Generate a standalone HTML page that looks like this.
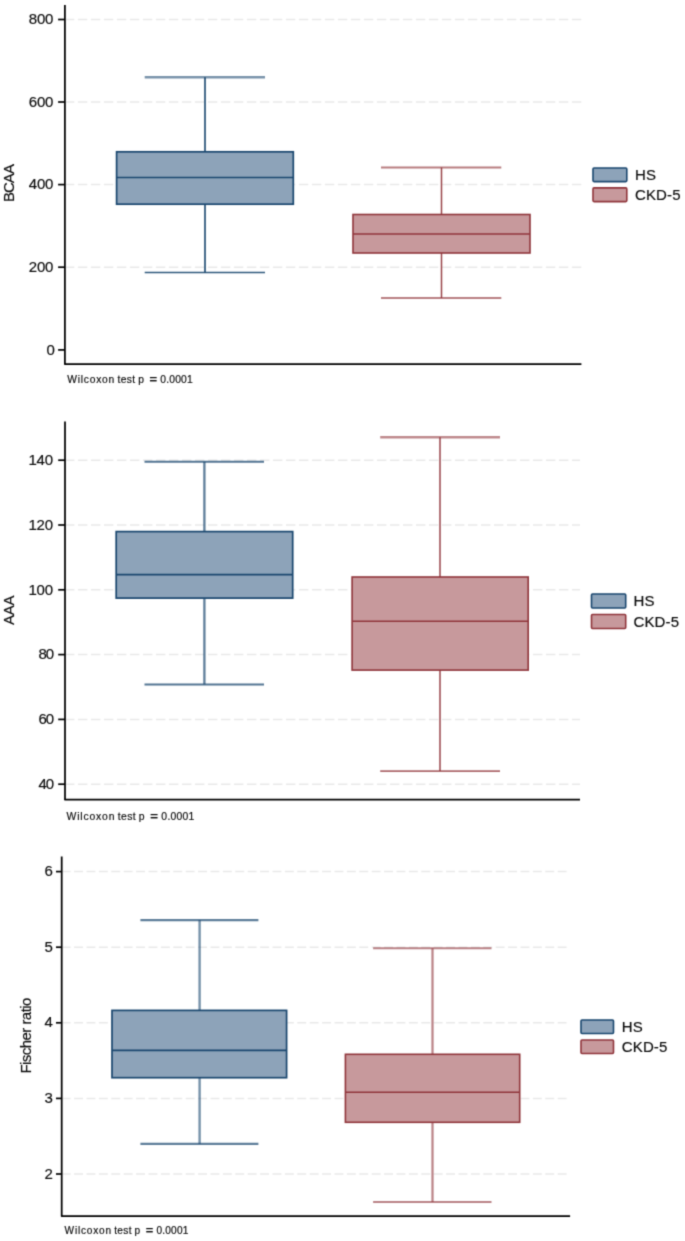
<!DOCTYPE html>
<html><head><meta charset="utf-8"><title>Box plots</title>
<style>
html,body{margin:0;padding:0;background:#fff;}
svg{display:block;}
text{font-family:"Liberation Sans",sans-serif;fill:#0c0c0c;stroke:#0c0c0c;stroke-width:0.18px;}
</style></head><body>
<svg width="685" height="1241" viewBox="0 0 685 1241">
<defs><filter id="soft" x="0" y="0" width="685" height="1241" filterUnits="userSpaceOnUse" color-interpolation-filters="sRGB"><feConvolveMatrix order="3" kernelMatrix="0.02560 0.10880 0.02560 0.10880 0.46240 0.10880 0.02560 0.10880 0.02560" divisor="1" edgeMode="duplicate" preserveAlpha="true"/></filter></defs>
<g filter="url(#soft)">
<rect x="0" y="0" width="685" height="1241" fill="#fff"/>
<g>
<line x1="64.9" y1="19.5" x2="581.4" y2="19.5" stroke="#e9e9e9" stroke-width="1.5" stroke-dasharray="9.4 3.6"/>
<line x1="64.9" y1="102.0" x2="581.4" y2="102.0" stroke="#e9e9e9" stroke-width="1.5" stroke-dasharray="9.4 3.6"/>
<line x1="64.9" y1="184.6" x2="581.4" y2="184.6" stroke="#e9e9e9" stroke-width="1.5" stroke-dasharray="9.4 3.6"/>
<line x1="64.9" y1="267.2" x2="581.4" y2="267.2" stroke="#e9e9e9" stroke-width="1.5" stroke-dasharray="9.4 3.6"/>
<line x1="205" y1="77.3" x2="205" y2="151.8" stroke="#1a476f" stroke-opacity="0.85" stroke-width="1.9"/>
<line x1="205" y1="204.2" x2="205" y2="272.6" stroke="#1a476f" stroke-opacity="0.85" stroke-width="1.9"/>
<line x1="144.7" y1="77.3" x2="265" y2="77.3" stroke="#1a476f" stroke-opacity="0.58" stroke-width="2.5"/>
<line x1="144.7" y1="272.6" x2="265" y2="272.6" stroke="#1a476f" stroke-opacity="0.9" stroke-width="1.5"/>
<rect x="116.6" y="151.8" width="176.7" height="52.4" fill="#8da3b9" stroke="#1a476f" stroke-width="1.7"/>
<line x1="116.6" y1="177.5" x2="293.3" y2="177.5" stroke="#1a476f" stroke-width="1.7"/>
<line x1="441.5" y1="167.5" x2="441.5" y2="214.5" stroke="#90353b" stroke-opacity="0.92" stroke-width="1.5"/>
<line x1="441.5" y1="253" x2="441.5" y2="298" stroke="#90353b" stroke-opacity="0.92" stroke-width="1.5"/>
<line x1="381" y1="167.5" x2="501.3" y2="167.5" stroke="#90353b" stroke-opacity="0.65" stroke-width="2.1"/>
<line x1="381" y1="298" x2="501.3" y2="298" stroke="#90353b" stroke-opacity="0.85" stroke-width="1.6"/>
<rect x="353" y="214.5" width="177" height="38.5" fill="#c7999c" stroke="#90353b" stroke-width="1.6"/>
<line x1="353" y1="234" x2="530" y2="234" stroke="#90353b" stroke-width="1.6"/>
<line x1="64.9" y1="5.1" x2="64.9" y2="364.6" stroke="#000" stroke-width="1.75"/>
<line x1="64.30000000000001" y1="364" x2="581.4" y2="364" stroke="#000" stroke-width="1.75"/>
<line x1="58.1" y1="19.5" x2="64.9" y2="19.5" stroke="#000" stroke-width="1.7"/>
<text x="53.4" y="24.3" font-size="15" text-anchor="end" textLength="24.599999999999998" lengthAdjust="spacing">800</text>
<line x1="58.1" y1="102.0" x2="64.9" y2="102.0" stroke="#000" stroke-width="1.7"/>
<text x="53.4" y="106.8" font-size="15" text-anchor="end" textLength="24.599999999999998" lengthAdjust="spacing">600</text>
<line x1="58.1" y1="184.6" x2="64.9" y2="184.6" stroke="#000" stroke-width="1.7"/>
<text x="53.4" y="189.4" font-size="15" text-anchor="end" textLength="24.599999999999998" lengthAdjust="spacing">400</text>
<line x1="58.1" y1="267.2" x2="64.9" y2="267.2" stroke="#000" stroke-width="1.7"/>
<text x="53.4" y="272.0" font-size="15" text-anchor="end" textLength="24.599999999999998" lengthAdjust="spacing">200</text>
<line x1="58.1" y1="349.9" x2="64.9" y2="349.9" stroke="#000" stroke-width="1.7"/>
<text x="54.8" y="354.7" font-size="15" text-anchor="end" textLength="8.2" lengthAdjust="spacing">0</text>
<text transform="translate(13.8,183.1) rotate(-90)" font-size="15" text-anchor="middle" textLength="38">BCAA</text>
<rect x="593" y="168" width="33.799999999999955" height="13.599999999999994" fill="#8da3b9" stroke="#1a476f" stroke-width="1.6" rx="1"/>
<rect x="593" y="187.9" width="33.799999999999955" height="13.699999999999989" fill="#c7999c" stroke="#90353b" stroke-width="1.6" rx="1"/>
<text x="635.0" y="179.8" font-size="15" textLength="21">HS</text>
<text x="635.0" y="199.75" font-size="15" textLength="45.5">CKD-5</text>
<text x="67.3" y="382.6" font-size="10.3" textLength="47.0" lengthAdjust="spacing">Wilcoxon</text>
<text x="117.5" y="382.6" font-size="10.3" textLength="17.6" lengthAdjust="spacing">test</text>
<text x="138.2" y="382.6" font-size="10.3">p</text>
<text x="149.4" y="382.6" font-size="10.3" font-weight="bold" textLength="7.6" lengthAdjust="spacingAndGlyphs">=</text>
<text x="160.3" y="382.6" font-size="10.3" textLength="32.4" lengthAdjust="spacing">0.0001</text>
</g>
<g>
<line x1="65.0" y1="460.2" x2="580" y2="460.2" stroke="#e9e9e9" stroke-width="1.5" stroke-dasharray="9.4 3.6"/>
<line x1="65.0" y1="525.0" x2="580" y2="525.0" stroke="#e9e9e9" stroke-width="1.5" stroke-dasharray="9.4 3.6"/>
<line x1="65.0" y1="589.8" x2="580" y2="589.8" stroke="#e9e9e9" stroke-width="1.5" stroke-dasharray="9.4 3.6"/>
<line x1="65.0" y1="654.6" x2="580" y2="654.6" stroke="#e9e9e9" stroke-width="1.5" stroke-dasharray="9.4 3.6"/>
<line x1="65.0" y1="719.4" x2="580" y2="719.4" stroke="#e9e9e9" stroke-width="1.5" stroke-dasharray="9.4 3.6"/>
<line x1="65.0" y1="784.2" x2="580" y2="784.2" stroke="#e9e9e9" stroke-width="1.5" stroke-dasharray="9.4 3.6"/>
<line x1="204.4" y1="461.8" x2="204.4" y2="531.6" stroke="#1a476f" stroke-opacity="0.7" stroke-width="2.3"/>
<line x1="204.4" y1="598.1" x2="204.4" y2="684.4" stroke="#1a476f" stroke-opacity="0.7" stroke-width="2.3"/>
<line x1="144.5" y1="461.8" x2="264" y2="461.8" stroke="#1a476f" stroke-opacity="0.75" stroke-width="2.0"/>
<line x1="144.5" y1="684.4" x2="264" y2="684.4" stroke="#1a476f" stroke-opacity="0.75" stroke-width="2.0"/>
<rect x="116.2" y="531.6" width="176.5" height="66.5" fill="#8da3b9" stroke="#1a476f" stroke-width="1.7"/>
<line x1="116.2" y1="574.6" x2="292.7" y2="574.6" stroke="#1a476f" stroke-width="1.7"/>
<line x1="440" y1="437.3" x2="440" y2="577" stroke="#90353b" stroke-opacity="0.92" stroke-width="1.5"/>
<line x1="440" y1="670.1" x2="440" y2="771.1" stroke="#90353b" stroke-opacity="0.92" stroke-width="1.5"/>
<line x1="380.2" y1="437.3" x2="500" y2="437.3" stroke="#90353b" stroke-opacity="0.58" stroke-width="2.4"/>
<line x1="380.2" y1="771.1" x2="500" y2="771.1" stroke="#90353b" stroke-opacity="0.75" stroke-width="1.9"/>
<rect x="352.1" y="577" width="176.1" height="93.1" fill="#c7999c" stroke="#90353b" stroke-width="1.6"/>
<line x1="352.1" y1="621.3" x2="528.2" y2="621.3" stroke="#90353b" stroke-width="1.6"/>
<line x1="65.0" y1="421.6" x2="65.0" y2="800.1" stroke="#000" stroke-width="1.75"/>
<line x1="64.4" y1="799.5" x2="580" y2="799.5" stroke="#000" stroke-width="1.75"/>
<line x1="58.2" y1="460.2" x2="65.0" y2="460.2" stroke="#000" stroke-width="1.7"/>
<text x="53" y="465.0" font-size="15" text-anchor="end" textLength="24.599999999999998" lengthAdjust="spacing">140</text>
<line x1="58.2" y1="525.0" x2="65.0" y2="525.0" stroke="#000" stroke-width="1.7"/>
<text x="53" y="529.8" font-size="15" text-anchor="end" textLength="24.599999999999998" lengthAdjust="spacing">120</text>
<line x1="58.2" y1="589.8" x2="65.0" y2="589.8" stroke="#000" stroke-width="1.7"/>
<text x="53" y="594.5999999999999" font-size="15" text-anchor="end" textLength="24.599999999999998" lengthAdjust="spacing">100</text>
<line x1="58.2" y1="654.6" x2="65.0" y2="654.6" stroke="#000" stroke-width="1.7"/>
<text x="54.0" y="659.4" font-size="15" text-anchor="end" textLength="15.5" lengthAdjust="spacing">80</text>
<line x1="58.2" y1="719.4" x2="65.0" y2="719.4" stroke="#000" stroke-width="1.7"/>
<text x="54.0" y="724.1999999999999" font-size="15" text-anchor="end" textLength="15.5" lengthAdjust="spacing">60</text>
<line x1="58.2" y1="784.2" x2="65.0" y2="784.2" stroke="#000" stroke-width="1.7"/>
<text x="54.0" y="789.0" font-size="15" text-anchor="end" textLength="15.5" lengthAdjust="spacing">40</text>
<text transform="translate(13.8,610.2) rotate(-90)" font-size="15" text-anchor="middle" textLength="29.5">AAA</text>
<rect x="591.5" y="594" width="34.200000000000045" height="14" fill="#8da3b9" stroke="#1a476f" stroke-width="1.6" rx="1"/>
<rect x="591.5" y="614.5" width="34.200000000000045" height="14.0" fill="#c7999c" stroke="#90353b" stroke-width="1.6" rx="1"/>
<text x="633.5" y="606.0" font-size="15" textLength="21">HS</text>
<text x="633.5" y="626.5" font-size="15" textLength="45.5">CKD-5</text>
<text x="66.5" y="819.5" font-size="10.4" textLength="47.93" lengthAdjust="spacing">Wilcoxon</text>
<text x="117.7" y="819.5" font-size="10.4" textLength="17.95" lengthAdjust="spacing">test</text>
<text x="138.81" y="819.5" font-size="10.4">p</text>
<text x="150.23" y="819.5" font-size="10.4" font-weight="bold" textLength="7.75" lengthAdjust="spacingAndGlyphs">=</text>
<text x="161.35" y="819.5" font-size="10.4" textLength="33.04" lengthAdjust="spacing">0.0001</text>
</g>
<g>
<line x1="61.7" y1="871.6" x2="570" y2="871.6" stroke="#e9e9e9" stroke-width="1.5" stroke-dasharray="8.9 3.5"/>
<line x1="61.7" y1="947.2" x2="570" y2="947.2" stroke="#e9e9e9" stroke-width="1.5" stroke-dasharray="8.9 3.5"/>
<line x1="61.7" y1="1022.8" x2="570" y2="1022.8" stroke="#e9e9e9" stroke-width="1.5" stroke-dasharray="8.9 3.5"/>
<line x1="61.7" y1="1098.4" x2="570" y2="1098.4" stroke="#e9e9e9" stroke-width="1.5" stroke-dasharray="8.9 3.5"/>
<line x1="61.7" y1="1174.0" x2="570" y2="1174.0" stroke="#e9e9e9" stroke-width="1.5" stroke-dasharray="8.9 3.5"/>
<line x1="199.6" y1="920.1" x2="199.6" y2="1010.4" stroke="#1a476f" stroke-opacity="0.6" stroke-width="2.4"/>
<line x1="199.6" y1="1077.7" x2="199.6" y2="1143.9" stroke="#1a476f" stroke-opacity="0.6" stroke-width="2.4"/>
<line x1="140.4" y1="920.1" x2="258.4" y2="920.1" stroke="#1a476f" stroke-opacity="0.7" stroke-width="2.1"/>
<line x1="140.4" y1="1143.9" x2="258.4" y2="1143.9" stroke="#1a476f" stroke-opacity="0.7" stroke-width="2.1"/>
<rect x="112" y="1010.4" width="174.6" height="67.3" fill="#8da3b9" stroke="#1a476f" stroke-width="1.7"/>
<line x1="112" y1="1050.4" x2="286.6" y2="1050.4" stroke="#1a476f" stroke-width="1.7"/>
<line x1="432.5" y1="948.3" x2="432.5" y2="1054.3" stroke="#90353b" stroke-opacity="0.62" stroke-width="2.2"/>
<line x1="432.5" y1="1122.3" x2="432.5" y2="1202" stroke="#90353b" stroke-opacity="0.62" stroke-width="2.2"/>
<line x1="373.1" y1="948.3" x2="491.5" y2="948.3" stroke="#90353b" stroke-opacity="0.62" stroke-width="2.1"/>
<line x1="373.1" y1="1202" x2="491.5" y2="1202" stroke="#90353b" stroke-opacity="0.62" stroke-width="2.1"/>
<rect x="345.4" y="1054.3" width="174.3" height="68.0" fill="#c7999c" stroke="#90353b" stroke-width="1.6"/>
<line x1="345.4" y1="1092.3" x2="519.7" y2="1092.3" stroke="#90353b" stroke-width="1.6"/>
<line x1="61.7" y1="856.6" x2="61.7" y2="1216.6" stroke="#000" stroke-width="1.75"/>
<line x1="61.1" y1="1216" x2="570.1" y2="1216" stroke="#000" stroke-width="1.75"/>
<line x1="56.0" y1="871.6" x2="61.7" y2="871.6" stroke="#000" stroke-width="1.7"/>
<text x="52.8" y="876.1" font-size="15" text-anchor="end" textLength="8.2" lengthAdjust="spacing">6</text>
<line x1="56.0" y1="947.2" x2="61.7" y2="947.2" stroke="#000" stroke-width="1.7"/>
<text x="52.8" y="951.7" font-size="15" text-anchor="end" textLength="8.2" lengthAdjust="spacing">5</text>
<line x1="56.0" y1="1022.8" x2="61.7" y2="1022.8" stroke="#000" stroke-width="1.7"/>
<text x="52.8" y="1027.3" font-size="15" text-anchor="end" textLength="8.2" lengthAdjust="spacing">4</text>
<line x1="56.0" y1="1098.4" x2="61.7" y2="1098.4" stroke="#000" stroke-width="1.7"/>
<text x="52.8" y="1102.9" font-size="15" text-anchor="end" textLength="8.2" lengthAdjust="spacing">3</text>
<line x1="56.0" y1="1174.0" x2="61.7" y2="1174.0" stroke="#000" stroke-width="1.7"/>
<text x="52.8" y="1178.5" font-size="15" text-anchor="end" textLength="8.2" lengthAdjust="spacing">2</text>
<text transform="translate(30.8,1035.6) rotate(-90)" font-size="15" text-anchor="middle" textLength="76">Fischer ratio</text>
<rect x="581" y="1020" width="32.5" height="13.5" fill="#8da3b9" stroke="#1a476f" stroke-width="1.6" rx="1"/>
<rect x="581" y="1040" width="32.5" height="13.5" fill="#c7999c" stroke="#90353b" stroke-width="1.6" rx="1"/>
<text x="621.8" y="1031.75" font-size="15" textLength="21">HS</text>
<text x="621.8" y="1051.75" font-size="15" textLength="45.5">CKD-5</text>
<text x="64.6" y="1234.4" font-size="10.1" textLength="46.4" lengthAdjust="spacing">Wilcoxon</text>
<text x="114.16" y="1234.4" font-size="10.1" textLength="17.38" lengthAdjust="spacing">test</text>
<text x="134.6" y="1234.4" font-size="10.1">p</text>
<text x="145.66" y="1234.4" font-size="10.1" font-weight="bold" textLength="7.5" lengthAdjust="spacingAndGlyphs">=</text>
<text x="156.42" y="1234.4" font-size="10.1" textLength="31.99" lengthAdjust="spacing">0.0001</text>
</g>
</g>
</svg>
</body></html>
